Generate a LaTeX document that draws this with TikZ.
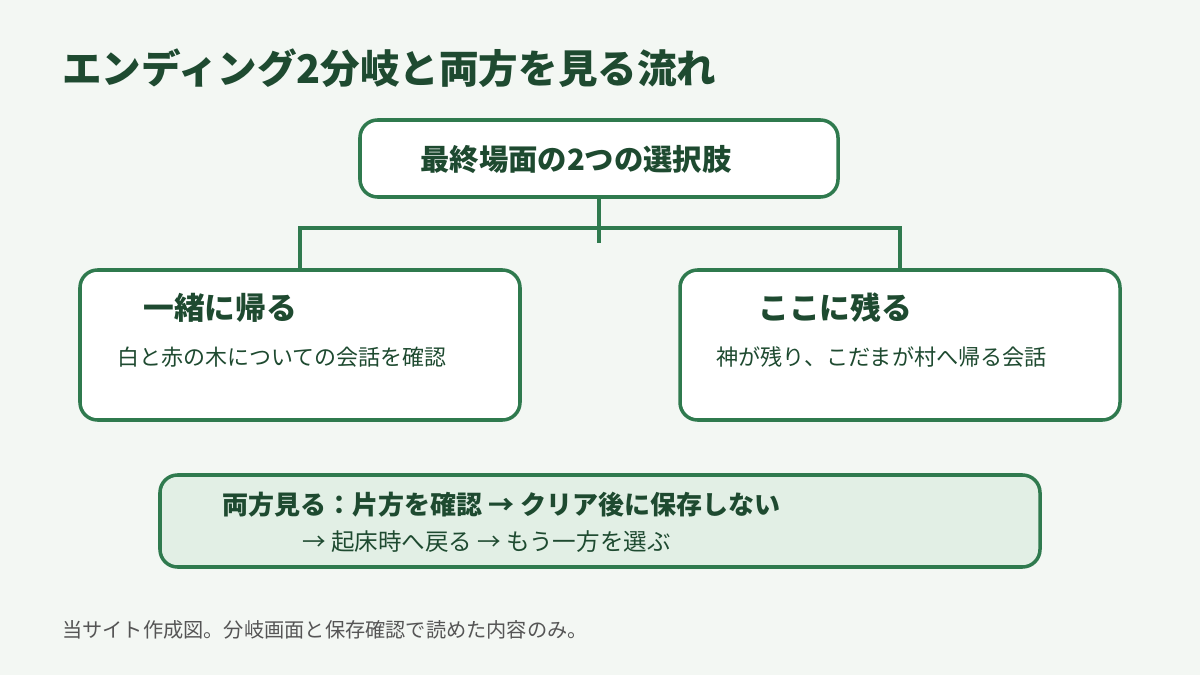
\documentclass[tikz,border=0pt]{standalone}
\usepackage{fontspec}
\setmainfont{Noto Sans CJK JP}
\usetikzlibrary{positioning}
\definecolor{bgcol}{HTML}{F3F7F3}
\definecolor{darkgreen}{HTML}{1E4A30}
\definecolor{linegreen}{HTML}{2F7A4E}
\definecolor{palegreen}{HTML}{E2EFE5}
\definecolor{footgray}{HTML}{555555}
\tikzset{
box/.style={draw=linegreen,line width=2pt,rounded corners=10pt,fill=white,inner sep=0pt},
link/.style={draw=linegreen,line width=2.4pt},
txt/.style={anchor=west,inner sep=0pt,text=darkgreen}
}
\begin{document}
\begin{tikzpicture}[x=0.02cm,y=-0.02cm]
\fill[bgcol] (0,0) rectangle (1200,675);
\useasboundingbox (0,0) rectangle (1200,675);
\node[txt,font=\bfseries\fontsize{22.5}{26}\selectfont] (title) at (62,68) {エンディング2分岐と両方を見る流れ};
% top box
\node[box,minimum width=478*0.02cm,minimum height=77*0.02cm] (top) at (599,158.5) {};
\node[txt,font=\bfseries\fontsize{16.7}{19}\selectfont] (toplbl) at (420,160) {最終場面の2つの選択肢};
% branch boxes
\node[box,minimum width=440*0.02cm,minimum height=150*0.02cm] (left) at (300,345) {};
\node[box,minimum width=440*0.02cm,minimum height=150*0.02cm] (right) at (900,345) {};
\node[txt,font=\bfseries\fontsize{17.5}{20}\selectfont] (lhead) at (143,308) {一緒に帰る};
\node[txt,font=\fontsize{12.5}{15}\selectfont] (ltext) at (117,357) {白と赤の木についての会話を確認};
\node[txt,font=\bfseries\fontsize{17.5}{20}\selectfont] (rhead) at (758,308) {ここに残る};
\node[txt,font=\fontsize{12.6}{15}\selectfont] (rtext) at (716,357) {神が残り、こだまが村へ帰る会話};
% connectors
\coordinate (stem) at (599,243);
\coordinate (jl) at (300,228);
\coordinate (jr) at (900,228);
\draw[link] (top.south) -- (stem);
\draw[link] (left.north) -- (jl) -- (jr) -- (right.north);
% bottom note
\node[box,fill=palegreen,minimum width=880*0.02cm,minimum height=92*0.02cm] (both) at (600,521) {};
\node[txt,font=\bfseries\fontsize{14.8}{17}\selectfont] (bline1) at (222,505) {両方見る：片方を確認 → クリア後に保存しない};
\node[txt,font=\fontsize{13.4}{16}\selectfont] (bline2) at (302,542) {→ 起床時へ戻る → もう一方を選ぶ};
\node[txt,text=footgray,font=\fontsize{11.5}{14}\selectfont] (foot) at (62,630) {当サイト作成図。分岐画面と保存確認で読めた内容のみ。};
\end{tikzpicture}
\end{document}
